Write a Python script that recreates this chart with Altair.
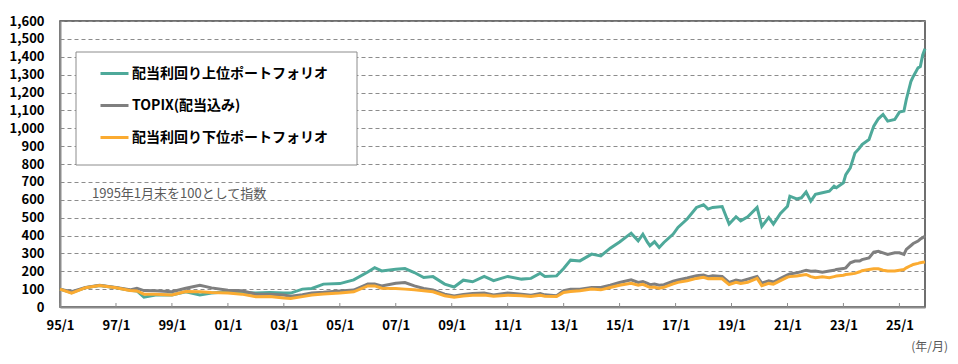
import altair as alt
import pandas as pd

# ---- data (index, 1995/1 = 100) ----
months = [
    "1995-01", "1995-06", "1995-12", "1996-06", "1997-01", "1997-07", "1997-10", "1998-01",
    "1998-06", "1999-01", "1999-07", "2000-01", "2000-06", "2001-01", "2001-07", "2002-01",
    "2002-07", "2003-01", "2003-04", "2003-09", "2004-01", "2004-06", "2005-01", "2005-07",
    "2006-01", "2006-04", "2006-07", "2007-01", "2007-05", "2007-09", "2008-01", "2008-05",
    "2008-10", "2009-02", "2009-06", "2009-10", "2010-03", "2010-07", "2011-01", "2011-07",
    "2011-11", "2012-03", "2012-05", "2012-10", "2013-01", "2013-04", "2013-08", "2014-01",
    "2014-05", "2014-09", "2015-01", "2015-06", "2015-09", "2015-11", "2016-01", "2016-02",
    "2016-04", "2016-06", "2016-08", "2016-12", "2017-02", "2017-06", "2017-10", "2018-01",
    "2018-03", "2018-05", "2018-09", "2018-12", "2019-03", "2019-05", "2019-08", "2019-12",
    "2020-02", "2020-05", "2020-07", "2020-10", "2021-01", "2021-02", "2021-05", "2021-07",
    "2021-09", "2021-11", "2022-01", "2022-04", "2022-07", "2022-09", "2022-10", "2023-01",
    "2023-02", "2023-04", "2023-06", "2023-08", "2023-09", "2023-12", "2024-02", "2024-04",
    "2024-06", "2024-08", "2024-11", "2025-01", "2025-03", "2025-04", "2025-06", "2025-07",
    "2025-09", "2025-10", "2025-11", "2025-12",
]
high_yield = [
    100, 80, 108, 120, 108, 94, 90, 55,
    67, 67, 85, 67, 78, 85, 81, 78,
    81, 78, 78, 100, 104, 128, 131, 152,
    196, 220, 202, 211, 215, 193, 165, 170,
    128, 112, 150, 141, 171, 147, 171, 156,
    160, 189, 171, 174, 215, 262, 258, 296,
    286, 329, 364, 413, 370, 407, 361, 343,
    365, 333, 361, 408, 445, 492, 557, 572,
    548, 557, 562, 464, 505, 482, 505, 557,
    451, 501, 464, 523, 564, 620, 605, 611,
    643, 592, 630, 639, 648, 676, 667, 695,
    741, 779, 862, 890, 909, 937, 1012, 1053,
    1077, 1040, 1049, 1090, 1096, 1161, 1263, 1290,
    1338, 1345, 1410, 1445,
]
topix = [
    100, 85, 109, 122, 109, 96, 105, 92,
    91, 85, 105, 122, 107, 94, 91, 72,
    72, 67, 60, 68, 78, 82, 90, 95,
    128, 128, 118, 133, 137, 118, 104, 96,
    72, 62, 70, 75, 78, 67, 78, 72,
    66, 75, 68, 63, 91, 100, 100, 109,
    109, 122, 137, 152, 137, 142, 132, 125,
    129, 122, 125, 144, 151, 162, 175, 179,
    170, 175, 171, 138, 151, 145, 156, 171,
    134, 147, 140, 160, 180, 185, 191, 198,
    206, 200, 201, 195, 201, 205, 210, 215,
    219, 247, 257, 257, 265, 275, 307, 312,
    303, 294, 303, 303, 294, 322, 344, 355,
    369, 380, 388, 395,
]
low_yield = [
    100, 78, 108, 120, 108, 92, 90, 72,
    72, 67, 87, 85, 81, 78, 72, 57,
    59, 50, 48, 58, 67, 73, 78, 85,
    118, 118, 105, 104, 100, 96, 91, 85,
    63, 54, 62, 66, 67, 60, 66, 63,
    59, 65, 60, 59, 81, 87, 91, 100,
    96, 109, 122, 133, 122, 127, 115, 110,
    110, 105, 110, 129, 138, 147, 160, 166,
    158, 160, 158, 125, 138, 132, 138, 160,
    119, 132, 128, 147, 167, 170, 173, 178,
    182, 170, 164, 169, 164, 170, 173, 178,
    182, 185, 188, 197, 203, 210, 214, 214,
    206, 201, 201, 206, 210, 219, 232, 238,
    244, 248, 250, 252,
]
series_names = ["配当利回り上位ポートフォリオ", "TOPIX(配当込み)", "配当利回り下位ポートフォリオ"]
series_colors = ["#4ea99a", "#7f7f7f", "#fbab31"]
tick_years = list(range(1995, 2026, 2))
y_ticks = list(range(0, 1700, 100))
note_text = ["1995年1月末を100として指数"]
unit_text = ["(年/月)"]

FONT = "Noto Sans CJK JP"
GRID = "#8c8c8c"

rows = []
for name, vals in zip(series_names, [high_yield, topix, low_yield]):
    for m, v in zip(months, vals):
        rows.append({"date": m + "-01", "series": name, "value": v})
df = pd.DataFrame(rows)
ticks_df = pd.DataFrame({"date": [f"{y}-01-01" for y in tick_years]})

x_scale = alt.Scale(
    type="utc",
    domain=[alt.DateTime(year=1995, month=1, date=1, utc=True),
            alt.DateTime(year=2025, month=12, date=1, utc=True)],
)
y_scale = alt.Scale(domain=[0, 1600], nice=False)
color_scale = alt.Scale(domain=series_names, range=series_colors)

x_enc = alt.X(
    "date:T", scale=x_scale, title=None,
    axis=alt.Axis(
        values=[alt.DateTime(year=y, month=1, date=1, utc=True) for y in tick_years],
        format="%y/%-m", grid=False, ticks=False, labelPadding=12,
        labelFont=FONT, labelFontSize=13, labelFontWeight="bold", labelColor="black",
        domainColor=GRID, domainWidth=2, labelFlush=False,
    ),
)
y_enc = alt.Y(
    "value:Q", scale=y_scale, title=None,
    axis=alt.Axis(
        values=y_ticks, format=",.0f", ticks=False, labelPadding=16,
        labelFont=FONT, labelFontSize=13, labelFontWeight="bold", labelColor="black",
        domainColor=GRID, domainWidth=2,
        gridColor=GRID, gridDash=[4, 3], gridWidth=1,
    ),
)
color_enc = alt.Color(
    "series:N", scale=color_scale,
    legend=alt.Legend(
        orient="none", legendX=39, legendY=37, title=None,
        symbolType="stroke", symbolSize=784, symbolStrokeWidth=3,
        labelFont=FONT, labelFontSize=14, labelFontWeight="bold", labelColor="black",
        rowPadding=9, labelOffset=2, padding=0, labelLimit=400,
    ),
)

box = alt.Chart(pd.DataFrame({"k": [1]})).mark_rect(
    fill="white", stroke="#8c8c8c", strokeWidth=1
).encode(x=alt.value(16), x2=alt.value(297), y=alt.value(31), y2=alt.value(144))

line_layers = []
for name in series_names:
    line_layers.append(
        alt.Chart(df).transform_filter(alt.datum.series == name)
        .mark_line(strokeWidth=3, interpolate="linear")
        .encode(x=x_enc, y=y_enc, color=color_enc)
    )

tick_marks = alt.Chart(ticks_df).mark_rule(color=GRID, strokeWidth=1).encode(
    x=alt.X("date:T", scale=x_scale), y=alt.value(282), y2=alt.value(286)
)

note = alt.Chart(pd.DataFrame({"t": note_text})).mark_text(
    align="left", baseline="middle", font=FONT, fontSize=13, color="#595959"
).encode(x=alt.value(32), y=alt.value(173), text="t:N")

unit = alt.Chart(pd.DataFrame({"t": unit_text})).mark_text(
    align="right", baseline="middle", font=FONT, fontSize=12, color="#595959"
).encode(x=alt.value(888), y=alt.value(326), text="t:N")

chart = alt.layer(box, *line_layers, tick_marks, note, unit).properties(
    width=865, height=286,
    padding={"left": 52, "top": 13, "right": 25, "bottom": 49},
    autosize=alt.AutoSizeParams(type="none"),
).configure_view(stroke="#404040", strokeWidth=1.5)

chart.save("out.html", embed_options={"renderer": "svg", "actions": False})
